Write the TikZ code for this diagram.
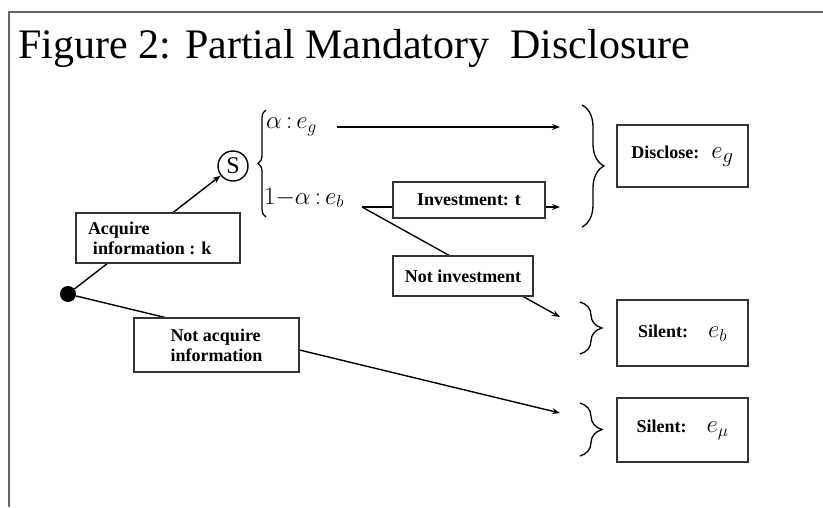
\documentclass[tikz,border=0pt]{standalone}
\usepackage{fontspec}
\setmainfont{Liberation Serif}
\usetikzlibrary{arrows.meta}
\usetikzlibrary{decorations.pathreplacing}

\begin{document}
\begin{tikzpicture}[x=1pt, y=-1pt,
  arr/.style={line width=1.4pt, -{Stealth[length=8pt, width=6pt]}},
  box/.style={draw=black!80, line width=1.8pt, fill=white, inner sep=0pt,
    font=\bfseries\fontsize{18}{20}\selectfont},
  curly/.style={line width=1.3pt, decorate, decoration={brace, amplitude=#1}},
  curly/.default=22]
\useasboundingbox (0,0) rectangle (823,507);

% frame and title
\draw[black!60, line width=2pt] (823,12) -- (9,12) -- (9,507);
\node[anchor=base west, inner sep=0pt, font=\fontsize{42}{48}\selectfont] (title) at (18,58) {Figure 2: Partial Mandatory\ \ Disclosure};

% decision points
\node[circle, fill=black, minimum size=16pt, inner sep=0pt] (root) at (68,294) {};
\node[circle, draw, line width=1.4pt, minimum size=30pt, inner sep=0pt, font=\fontsize{24}{24}\selectfont] (sig) at (233,166) {S};
\node[anchor=west, inner sep=0pt, font=\fontsize{23}{23}\selectfont] (ag) at (266,127) {$\alpha\,{:}\,e_g$};
\node[anchor=west, inner sep=0pt, font=\fontsize{23}{23}\selectfont] (ab) at (264,198) {$1{-}\alpha\,{:}\,e_b$};

\coordinate (gfrom) at (337,127);
\coordinate (gto) at (560,127);
\coordinate (fork) at (362,207);
\coordinate (invto) at (560,207);
\coordinate (notinvto) at (560,317);
\coordinate (notacqto) at (560,413);

% branches
\draw[arr] (root) -- (sig);
\draw[arr] (root) -- (notacqto);
\draw[arr] (gfrom) -- (gto);
\draw[arr] (fork) -- (invto);
\draw[arr] (fork) -- (notinvto);

% labels on the branches
\node[box, minimum width=164pt, minimum height=50pt, text width=140pt, align=flush left] (acq) at (158,238) {Acquire\\\hspace{5pt}information : k};
\node[box, minimum width=165pt, minimum height=54pt, align=left] (noacq) at (216.5,345) {Not acquire\\information};
\node[box, minimum width=152pt, minimum height=36pt] (inv) at (469,200) {Investment: t};
\node[box, minimum width=140pt, minimum height=40pt] (noinv) at (463,276) {Not investment};

% outcomes
\node[box, minimum width=131pt, minimum height=62pt] (discl) at (682.5,156) {Disclose:\hspace{12pt}{\fontsize{28}{28}\selectfont$e_g$}};
\node[box, minimum width=131pt, minimum height=66pt] (silb) at (682.5,333) {Silent:\hspace{20pt}{\fontsize{24}{24}\selectfont$e_b$}};
\node[box, minimum width=131pt, minimum height=64pt] (silm) at (682.5,430) {Silent:\hspace{20pt}{\fontsize{24}{24}\selectfont$e_\mu$}};

% braces
\draw[curly=8] (266,217) -- (266,110);
\draw[curly] (582,105) -- (582,227);
\draw[curly] (580,302) -- (580,354);
\draw[curly] (580,403) -- (580,456);
\end{tikzpicture}
\end{document}
